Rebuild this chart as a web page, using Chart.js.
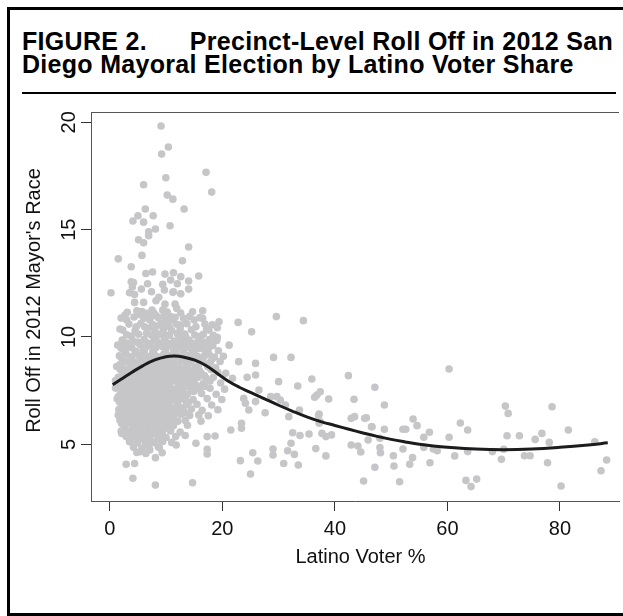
<!DOCTYPE html>
<html><head><meta charset="utf-8">
<script src="https://cdn.jsdelivr.net/npm/chart.js@4.4.1/dist/chart.umd.min.js"></script>
<style>
html,body{margin:0;padding:0;background:#fff;overflow:hidden;width:623px;height:616px}
#frame{position:absolute;left:7px;top:7px;width:700px;height:603px;border:3px solid #000;border-right:none}
#title{position:absolute;left:22px;top:30px;width:591px;font:bold 25px 'Liberation Sans',Arial,Helvetica,sans-serif;letter-spacing:0.3px;line-height:23px;color:#000;white-space:nowrap}
#title .l1{display:flex;justify-content:space-between}
#rule{position:absolute;left:22px;top:92px;width:594px;height:2px;background:#000}
#wrap{position:absolute;left:0;top:0;width:623px;height:616px}
</style></head>
<body>
<div id="frame"></div>
<div id="title"><div class="l1"><span>FIGURE 2.</span><span>Precinct-Level Roll Off in 2012 San</span></div><div>Diego Mayoral Election by Latino Voter Share</div></div>
<div id="rule"></div>
<div id="wrap"><canvas id="c" width="623" height="616"></canvas></div>
<script>
// ---- tick labels & titles ----
const xTicks = [0, 20, 40, 60, 80];
const yTicks = [5, 10, 15, 20];
const xTitle = "Latino Voter %";
const yTitle = "Roll Off in 2012 Mayor's Race";

// ---- fitted curve ----
const curveX = [0.5, 2, 4, 6, 8, 10, 11.5, 13, 15, 17, 19, 21, 23, 25, 27.5, 30, 32.5, 35, 37.5, 40, 42.5, 45, 47.5, 50, 52.5, 55, 57.5, 60, 65, 70, 75, 80, 85, 88.5];
const curveY = [7.78, 8.03, 8.37, 8.68, 8.93, 9.08, 9.11, 9.07, 8.93, 8.68, 8.32, 7.95, 7.66, 7.42, 7.12, 6.82, 6.54, 6.28, 6.06, 5.88, 5.70, 5.53, 5.37, 5.23, 5.11, 5.00, 4.92, 4.86, 4.78, 4.75, 4.78, 4.86, 4.97, 5.07];

// ---- precinct points: [latino %, roll off] ----
const upperTail = [
[9.1,19.83],[9.2,18.52],[10.4,18.85],[9.95,17.42],[17.1,17.67],[18.1,16.75],[6.0,17.09],[10.2,16.61],[11.2,16.42],[13.2,15.96],
[6.3,15.96],[5.0,15.65],[4.1,15.40],[6.0,15.35],[7.7,15.65],[8.1,15.03],[6.9,14.90],[6.9,14.72],[5.1,14.53],[6.0,14.39],
[10.7,15.18],[14.0,14.19],[1.5,13.64],[5.7,13.80],[12.9,13.55],[3.8,13.27],[6.4,12.96],[7.6,13.03],[9.8,12.93],[11.3,12.99],
[12.6,12.81],[15.8,12.84],[3.8,12.57],[4.2,12.54],[6.7,12.48],[9.4,12.45],[10.8,12.65],[12.0,12.48],[14.0,12.61],[4.0,12.33],
[5.6,12.23],[7.4,12.11],[9.7,12.19],[11.3,12.11],[14.0,12.23],[0.2,12.06],[3.5,12.06],[4.4,11.98],[8.7,11.85],[12.6,12.01],
[11.2,12.08],[8.2,11.69],[4.4,11.61],[6.0,11.61],[9.8,11.53],[11.6,11.53],[4.8,11.22],[7.5,11.25],[9.4,11.25],[11.9,11.33],
[2.7,11.02],[5.1,11.05],[6.5,11.10],[8.2,11.00],[9.7,11.05],[10.8,10.95],[16.5,11.22],[29.6,10.95],[3.0,10.79],[7.1,10.79],
[11.2,10.79],[15.0,10.79],[16.5,10.87],[19.4,10.71],[22.8,10.68],[2.3,10.32],[4.7,10.48],[6.2,10.48],[8.8,10.56],[10.6,10.48],
[12.6,10.56],[15.3,10.48],[17.6,10.32],[19.1,10.43],[25.2,10.24],[3.8,10.04],[6.5,10.17],[8.2,10.01],[10.0,10.09],[12.0,10.17],
[13.5,10.01],[16.2,10.04],[19.1,9.98],[21.2,9.62],[2.6,9.67],[5.0,9.75],[7.1,9.59],[11.2,9.67],[14.4,9.59],[17.1,9.67]
];

const denseCore = [
[2.0,10.88],[4.3,10.93],[6.0,10.86],[7.3,10.95],[8.6,10.9],[9.9,10.84],[11.6,10.92],[13.1,10.87],[14.2,10.96],[16.0,10.9],
[1.8,10.37],[4.5,10.31],[6.8,10.39],[8.0,10.33],[9.5,10.36],[11.0,10.3],[12.5,10.4],[14.5,10.34],[17.2,10.37],
[2.2,9.86],[4.1,9.82],[6.1,9.88],[7.9,9.84],[9.7,9.87],[11.4,9.81],[12.8,9.89],[14.1,9.85],[15.8,9.83],[17.7,9.88],[19.0,9.84],
[1.4,9.62],[3.3,9.57],[5.4,9.63],[6.6,9.58],[8.4,9.61],[9.3,9.56],[10.9,9.64],[12.3,9.59],[13.8,9.62],[15.3,9.57],[16.4,9.63],[18.3,9.6],
[2.7,9.36],[4.6,9.33],[5.9,9.38],[7.7,9.34],[9.9,9.37],[11.7,9.32],[13.1,9.36],[14.7,9.39],[17.0,9.33],[19.3,9.36],
[1.7,9.12],[3.9,9.08],[5.2,9.13],[6.9,9.07],[8.2,9.11],[9.0,9.06],[10.5,9.12],[12.0,9.08],[14.0,9.13],[15.6,9.09],[16.8,9.12],[18.6,9.07],[20.2,9.1],
[2.9,8.86],[4.4,8.83],[6.3,8.88],[7.4,8.84],[8.8,8.87],[10.2,8.82],[11.3,8.86],[12.7,8.89],[14.4,8.84],[16.1,8.87],[17.9,8.83],[19.6,8.86],
[1.2,8.62],[2.2,8.57],[3.6,8.61],[5.6,8.58],[6.8,8.63],[8.0,8.59],[9.5,8.62],[11.0,8.57],[12.2,8.61],[13.5,8.64],[15.2,8.58],[17.4,8.61],[18.8,8.57],
[2.6,8.36],[4.2,8.33],[5.0,8.38],[6.4,8.34],[7.7,8.37],[9.2,8.32],[10.4,8.36],[11.8,8.39],[13.2,8.34],[14.6,8.37],[16.2,8.33],[19.2,8.36],[20.6,8.31],
[1.5,8.12],[3.3,8.07],[4.7,8.11],[6.0,8.08],[7.3,8.13],[8.6,8.09],[9.8,8.12],[11.2,8.07],[12.6,8.11],[14.1,8.08],[15.7,8.13],[17.1,8.09],[18.4,8.12],[21.8,8.08],
[2.1,7.86],[3.9,7.83],[5.4,7.88],[6.8,7.84],[8.1,7.87],[9.5,7.82],[10.7,7.86],[12.0,7.89],[13.4,7.84],[15.0,7.87],[16.6,7.83],[19.7,7.86],
[1.0,7.62],[2.8,7.57],[4.5,7.61],[5.9,7.58],[7.4,7.63],[8.9,7.59],[10.2,7.62],[11.6,7.57],[13.0,7.61],[14.4,7.64],[15.9,7.58],[17.8,7.61],[20.4,7.57],
[1.9,7.36],[3.5,7.33],[5.1,7.38],[6.5,7.34],[8.0,7.37],[9.4,7.32],[10.9,7.36],[12.2,7.39],[13.8,7.34],[16.3,7.37],[18.9,7.33],
[1.3,7.12],[2.6,7.07],[4.1,7.11],[5.6,7.08],[7.0,7.13],[8.4,7.09],[9.9,7.12],[11.4,7.07],[12.9,7.11],[14.8,7.08],[17.3,7.13],[19.9,7.09],
[2.2,6.86],[3.8,6.83],[5.0,6.88],[6.3,6.84],[7.7,6.87],[9.1,6.82],[10.5,6.86],[12.0,6.89],[13.6,6.84],[15.5,6.87],[18.1,6.83],
[1.6,6.62],[3.0,6.57],[4.4,6.61],[5.8,6.58],[7.3,6.63],[8.7,6.59],[10.1,6.62],[11.5,6.57],[13.0,6.61],[14.5,6.64],[16.4,6.58],[19.2,6.61],
[2.4,6.36],[3.7,6.33],[5.2,6.38],[6.7,6.34],[8.1,6.37],[9.6,6.32],[11.0,6.36],[12.6,6.39],[14.2,6.34],[15.8,6.37],[17.5,6.33],
[1.8,6.12],[3.2,6.07],[4.7,6.11],[6.0,6.08],[7.5,6.13],[9.0,6.09],[10.4,6.12],[12.1,6.07],[13.4,6.11],[16.2,6.08],
[2.6,5.86],[4.0,5.83],[5.4,5.88],[6.8,5.84],[8.3,5.87],[9.7,5.82],[11.3,5.86],[13.8,5.89],
[2.0,5.62],[3.4,5.57],[4.8,5.61],[6.2,5.58],[7.6,5.63],[9.1,5.59],[10.8,5.62],[12.5,5.57],
[2.9,5.36],[4.2,5.33],[5.6,5.38],[7.0,5.34],[8.5,5.37],[10.0,5.32],[11.7,5.36],
[3.5,5.12],[4.9,5.07],[6.3,5.11],[7.8,5.08],[9.4,5.13],[11.0,5.09],
[4.2,4.86],[5.7,4.83],[6.9,4.88],[8.8,4.84],
[4.8,4.62],[6.4,4.57],[9.3,4.61]
];

const denseFill = [
[3.1,11.15],[5.7,11.18],[7.8,11.13],[10.2,11.16],[12.6,11.12],[14.7,11.17],
[3.4,10.6],[5.5,10.63],[7.6,10.58],[9.2,10.62],[10.3,10.66],[11.9,10.59],[13.7,10.62],[16.9,10.6],[18.2,10.57],
[3.0,10.1],[5.1,10.13],[7.4,10.08],[8.9,10.12],[10.6,10.07],[12.1,10.11],[13.3,10.14],[15.1,10.09],[16.6,10.12],[18.4,10.08],
[3.0,9.72],[4.9,9.75],[6.9,9.7],[8.6,9.74],[10.3,9.71],[12.0,9.76],[13.4,9.72],[15.0,9.7],[16.9,9.74],
[2.0,9.47],[3.9,9.5],[6.2,9.45],[8.1,9.49],[9.9,9.46],[11.2,9.5],[12.9,9.45],[14.3,9.48],[15.9,9.46],[17.6,9.49],
[2.9,9.22],[4.5,9.25],[6.2,9.2],[7.6,9.24],[9.6,9.21],[11.3,9.25],[13.0,9.2],[15.0,9.23],[17.6,9.21],
[2.2,8.97],[3.6,9.0],[5.6,8.95],[7.9,8.99],[9.5,8.96],[11.0,9.0],[13.3,8.95],[14.9,8.98],[16.5,8.96],[18.2,8.99],
[1.8,8.72],[3.9,8.75],[5.1,8.7],[7.1,8.74],[8.5,8.71],[10.0,8.75],[11.9,8.7],[13.9,8.73],[15.8,8.71],[17.2,8.74],
[1.9,8.47],[3.0,8.5],[4.6,8.45],[6.1,8.49],[7.3,8.46],[8.7,8.5],[10.1,8.45],[11.4,8.48],[12.9,8.46],[14.0,8.49],[15.9,8.45],[18.0,8.48],
[2.3,8.22],[3.7,8.25],[5.5,8.2],[6.9,8.24],[8.1,8.21],[9.9,8.25],[11.1,8.2],[12.3,8.23],[13.8,8.21],[15.3,8.24],[16.8,8.2],
[1.0,7.97],[2.8,8.0],[4.4,7.95],[6.1,7.99],[7.5,7.96],[8.8,8.0],[10.2,7.95],[11.6,7.98],[12.9,7.96],[14.6,7.99],[17.8,7.95],
[1.6,7.72],[3.3,7.75],[4.9,7.7],[6.3,7.74],[7.8,7.71],[9.1,7.75],[10.6,7.7],[12.4,7.73],[13.8,7.71],[15.4,7.74],[16.9,7.7],
[2.3,7.47],[3.9,7.5],[5.5,7.45],[7.0,7.49],[8.5,7.46],[10.0,7.5],[11.3,7.45],[12.7,7.48],[14.9,7.46],
[1.5,7.22],[2.9,7.25],[4.4,7.2],[6.0,7.24],[7.4,7.21],[8.9,7.25],[10.5,7.2],[11.9,7.23],[13.4,7.21],
[1.7,6.97],[3.3,7.0],[4.6,6.95],[6.0,6.99],[7.4,6.96],[8.9,7.0],[10.3,6.95],[11.9,6.98],[14.0,6.96],
[2.5,6.72],[3.7,6.75],[5.2,6.7],[6.8,6.74],[8.2,6.71],[9.6,6.75],[10.9,6.7],[12.5,6.73],
[1.9,6.47],[3.4,6.5],[4.8,6.45],[6.2,6.49],[7.6,6.46],[9.0,6.5],[10.5,6.45],[12.0,6.48],[13.4,6.46],
[2.6,6.22],[4.1,6.25],[5.5,6.2],[7.0,6.24],[8.5,6.21],[9.9,6.25],[11.4,6.2],
[2.1,5.97],[3.5,6.0],[5.0,5.95],[6.4,5.99],[7.8,5.96],[9.3,6.0],[10.8,5.95],
[2.7,5.72],[4.2,5.75],[5.6,5.7],[7.1,5.74],[8.6,5.71],[10.1,5.75],
[3.7,5.47],[5.0,5.5],[6.5,5.45],[7.9,5.49],[9.4,5.46],
[4.4,5.22],[5.8,5.25],[7.2,5.2],[8.8,5.24]
];

const lowerAndRight = [
[34.4,10.76],[22.9,8.85],[25.9,8.77],[29.1,9.05],[32.2,9.05],[25.9,8.23],[24.4,8.12],[30.0,7.92],[26.5,7.53],[33.4,7.72],
[35.9,8.04],[42.4,8.20],[47.1,7.66],[23.8,7.14],[24.1,6.91],[25.9,6.99],[28.6,7.22],[29.7,7.22],[30.3,7.06],[31.2,6.83],
[27.6,6.47],[24.7,6.60],[31.8,6.29],[33.7,6.60],[36.4,7.19],[36.8,7.30],[37.4,7.45],[38.9,7.11],[37.1,6.36],[37.4,6.05],
[43.4,7.10],[42.9,6.21],[43.5,6.29],[45.3,6.21],[46.5,5.82],[44.1,4.92],[44.6,4.64],[42.9,4.97],[47.1,3.93],[45.1,3.29],
[45.9,5.20],[32.5,5.54],[33.8,5.41],[35.4,5.48],[37.7,5.51],[38.4,5.36],[39.4,5.44],[32.2,5.05],[31.6,4.70],[32.8,4.53],
[29.0,4.78],[29.0,4.50],[30.9,4.11],[33.5,4.04],[36.6,4.80],[38.4,4.46],[25.4,4.61],[26.3,4.22],[23.2,4.24],[25.0,3.62],
[23.4,5.98],[23.4,5.75],[21.5,5.67],[18.7,5.39],[17.3,5.36],[17.3,4.77],[17.3,4.55],[15.3,5.05],[13.4,5.41],[11.8,4.97],
[14.7,3.21],[8.1,3.10],[4.1,3.42],[2.9,4.07],[4.4,4.11],[8.1,4.38],[7.1,4.74],[8.6,4.89],[5.4,4.66],[2.1,5.51],
[1.9,6.49],[1.5,6.36],
[60.3,8.51],[48.8,6.83],[45.6,6.24],[37.2,6.41],[37.2,5.98],[46.6,5.82],[48.8,5.70],[53.9,6.18],[54.6,5.87],[52.1,5.70],
[52.6,5.70],[56.8,5.56],[55.8,5.33],[62.3,5.99],[63.6,5.67],[60.3,5.33],[70.3,6.78],[70.8,6.44],[78.6,6.75],[81.5,5.67],
[76.8,5.51],[75.6,5.23],[78.1,5.09],[72.8,5.40],[70.6,5.40],[70.0,4.77],[69.6,4.30],[73.7,4.47],[74.7,4.47],[77.8,4.14],
[80.2,3.06],[86.2,5.12],[88.3,4.27],[87.3,3.77],[68.0,4.66],[63.6,4.66],[61.3,4.46],[63.3,3.32],[64.2,3.03],[65.2,3.38],
[58.2,4.70],[57.5,4.78],[55.8,4.86],[56.9,4.14],[53.8,4.38],[53.3,4.07],[52.1,4.78],[50.4,4.47],[50.5,3.99],[51.5,3.26],
[48.1,4.61],[48.0,4.85],[48.0,5.28]
];

const allPoints = upperTail.concat(denseCore, denseFill, lowerAndRight);

Chart.defaults.font.family = "'Liberation Sans', Arial, Helvetica, sans-serif";

const fixedTicks = arr => scale => { scale.ticks = arr.map(v => ({ value: v })); };

const axisDecor = {
  id: 'axisDecor',
  afterDraw(chart) {
    const { ctx, chartArea: a, scales: { y } } = chart;
    ctx.save();
    ctx.strokeStyle = '#555';
    ctx.lineWidth = 1;
    ctx.beginPath();
    ctx.moveTo(a.left, a.top + 0.5);
    ctx.lineTo(a.right, a.top + 0.5);
    ctx.stroke();
    ctx.fillStyle = '#111';
    ctx.font = "20px 'Liberation Sans', Arial, Helvetica, sans-serif";
    ctx.textAlign = 'center';
    ctx.textBaseline = 'alphabetic';
    yTicks.forEach(v => {
      const py = y.getPixelForValue(v);
      ctx.save();
      ctx.translate(a.left - 16, py);
      ctx.rotate(-Math.PI / 2);
      ctx.fillText(String(v), 0, 0);
      ctx.restore();
    });
    ctx.save();
    ctx.translate(a.left - 51, (a.top + a.bottom) / 2 - 6);
    ctx.rotate(-Math.PI / 2);
    ctx.fillText(yTitle, 0, 0);
    ctx.restore();
    ctx.fillText(xTitle, 360.5, a.bottom + 62);
    ctx.restore();
  }
};

new Chart(document.getElementById('c'), {
  type: 'scatter',
  data: {
    datasets: [
      {
        type: 'line',
        data: curveX.map((x, i) => ({ x, y: curveY[i] })),
        borderColor: '#1c1c1c',
        borderWidth: 3,
        pointRadius: 0,
        tension: 0.4,
        fill: false,
        order: 0
      },
      {
        type: 'scatter',
        data: allPoints.map(p => ({ x: p[0], y: p[1] })),
        backgroundColor: '#c6c6c8',
        borderWidth: 0,
        pointRadius: 3.8,
        order: 1
      }
    ]
  },
  options: {
    responsive: false,
    animation: false,
    events: [],
    layout: { padding: { top: 112, left: 0, right: 0, bottom: 0 } },
    plugins: { legend: { display: false }, tooltip: { enabled: false }, title: { display: false } },
    scales: {
      x: {
        type: 'linear', min: -3.35, max: 90.5,
        afterBuildTicks: fixedTicks(xTicks),
        afterFit: s => { s.height = 115; },
        grid: { display: true, drawOnChartArea: false, drawTicks: true, tickLength: 10, tickColor: '#333', tickWidth: 1 },
        border: { display: true, color: '#555', width: 1 },
        ticks: { font: { size: 20 }, color: '#111', padding: 6, maxRotation: 0, autoSkip: false }
      },
      y: {
        type: 'linear', min: 2.36, max: 20.48,
        afterBuildTicks: fixedTicks(yTicks),
        afterFit: s => { s.width = 91; },
        grid: { display: true, drawOnChartArea: false, drawTicks: true, tickLength: 10, tickColor: '#333', tickWidth: 1 },
        border: { display: true, color: '#555', width: 1 },
        ticks: { display: false }
      }
    }
  },
  plugins: [axisDecor]
});
</script>
</body></html>
